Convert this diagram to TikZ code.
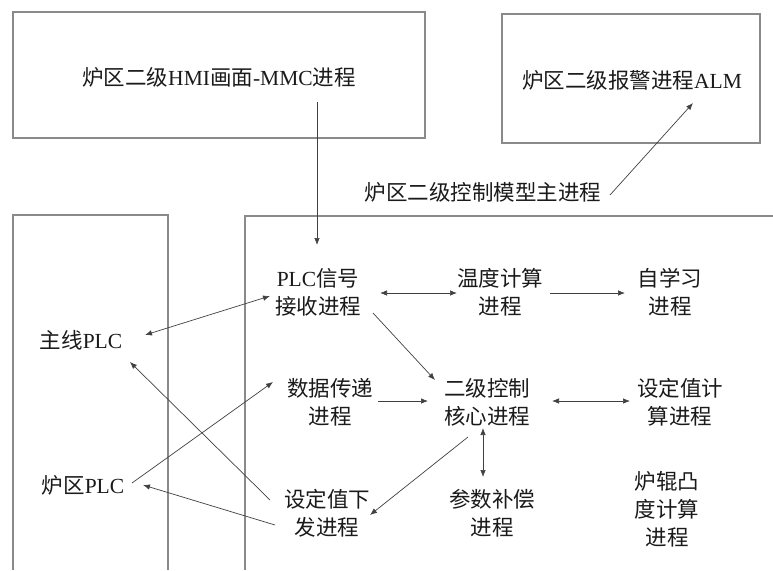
\documentclass[tikz,border=0pt]{standalone}
\usepackage{fontspec}
\setmainfont{Liberation Serif}
\newfontfamily\cjk{Noto Sans CJK SC}
\usetikzlibrary{arrows.meta}
\newcommand\latn[1]{{\rmfamily #1}}
\definecolor{boxgray}{HTML}{8A8A8A}
\definecolor{arrgray}{HTML}{404040}
\definecolor{txt}{HTML}{1A1A1A}
\tikzset{
  lbl/.style={align=center, text=txt, inner sep=0pt, font=\cjk\fontsize{21.5}{28}\selectfont},
  frame/.style={draw=boxgray, line width=1.1pt},
  conn/.style={draw=arrgray, line width=0.7pt, -{Latex[length=7pt,width=5.5pt]}},
  biconn/.style={draw=arrgray, line width=0.7pt, {Latex[length=7pt,width=5.5pt]}-{Latex[length=7pt,width=5.5pt]}},
}
\begin{document}
\begin{tikzpicture}[x=1pt,y=-1pt]
\useasboundingbox (0,0) rectangle (773,570);
% frames
\node[frame, minimum width=412pt, minimum height=126pt, inner sep=0pt] (hmibox) at (219,75) {};
\node[frame, minimum width=258pt, minimum height=129pt, inner sep=0pt] (almbox) at (631,78.5) {};
\draw[frame] (13,570) -- (13,215) -- (168,215) -- (168,570);
\draw[frame] (245,570) -- (245,216) -- (773,216);
% texts
\node[lbl] (hmi) at (219,77) {炉区二级\latn{HMI}画面\latn{-MMC}进程};
\node[lbl] (alm) at (632,80) {炉区二级报警进程\latn{ALM}};
\node[lbl] (mainlbl) at (483,192) {炉区二级控制模型主进程};
\node[lbl] (plcr) at (318,292) {\latn{PLC}信号\\接收进程};
\node[lbl] (temp) at (500,292) {温度计算\\进程};
\node[lbl] (self) at (670,292) {自学习\\进程};
\node[lbl] (zx) at (81,340) {主线\latn{PLC}};
\node[lbl] (lq) at (83,485) {炉区\latn{PLC}};
\node[lbl] (data) at (330,402) {数据传递\\进程};
\node[lbl] (core) at (487,402) {二级控制\\核心进程};
\node[lbl] (setc) at (680,402) {设定值计\\算进程};
\node[lbl] (setd) at (327,513) {设定值下\\发进程};
\node[lbl] (comp) at (492,513) {参数补偿\\进程};
\node[lbl] (roll) at (667,509) {炉辊凸\\度计算\\进程};
% connectors
\draw[conn] ([shift={(98,27)}]hmibox.center) -- ([shift={(-1,-47)}]plcr.center);
\draw[conn] ([shift={(127,3)}]mainlbl.center) -- ([shift={(62,24.5)}]almbox.center);
\draw[biconn] ([shift={(64,-5)}]zx.center) -- ([shift={(-48,4)}]plcr.center);
\draw[biconn] ([shift={(62,1)}]plcr.center) -- ([shift={(-43,1)}]temp.center);
\draw[conn] ([shift={(50,1)}]temp.center) -- ([shift={(-45,1)}]self.center);
\draw[conn] ([shift={(55,21)}]plcr.center) -- ([shift={(-52,-22)}]core.center);
\draw[conn] ([shift={(49,-2)}]lq.center) -- ([shift={(-57,-20)}]data.center);
\draw[conn] ([shift={(48,-1)}]data.center) -- ([shift={(-59,-1)}]core.center);
\draw[biconn] ([shift={(65,-1)}]core.center) -- ([shift={(-50,-1)}]setc.center);
\draw[biconn] ([shift={(-4,26)}]core.center) -- ([shift={(-9,-36)}]comp.center);
\draw[conn] ([shift={(-19,35)}]core.center) -- ([shift={(43,2)}]setd.center);
\draw[conn] ([shift={(-57,-13)}]setd.center) -- ([shift={(49,22)}]zx.center);
\draw[conn] ([shift={(-52,12)}]setd.center) -- ([shift={(60,0)}]lq.center);
\end{tikzpicture}
\end{document}
